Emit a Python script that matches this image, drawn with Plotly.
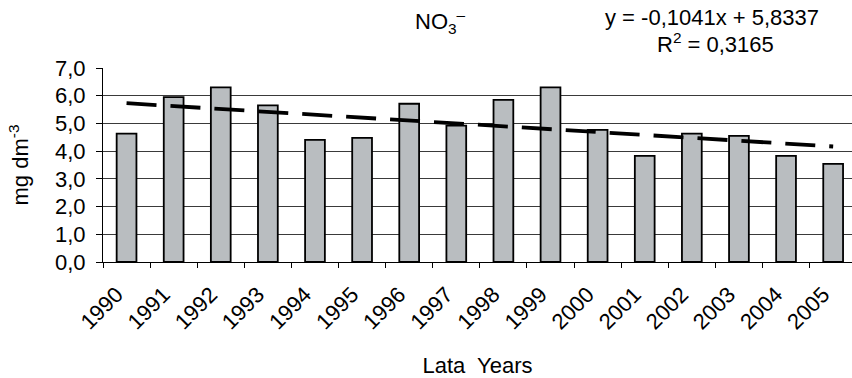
import plotly.graph_objects as go

# Annual mean NO3- concentration
years = ["1990", "1991", "1992", "1993", "1994", "1995", "1996", "1997",
         "1998", "1999", "2000", "2001", "2002", "2003", "2004", "2005"]
no3 = [4.63, 5.95, 6.30, 5.65, 4.41, 4.48, 5.71, 4.92,
       5.85, 6.30, 4.77, 3.83, 4.63, 4.55, 3.83, 3.54]

# Linear trend reported on the chart: y = a*x + b, x = 1..n
slope = -0.1041
intercept = 5.8337
r_squared = 0.3165
trend = [slope * (i + 1) + intercept for i in range(len(years))]

FONT = "Arial, Liberation Sans, sans-serif"
FS = 22

W, H = 852, 378
L, R, T, B = 103, 0, 68, 116
pw, ph = W - L - R, H - T - B


def px_to_paper(x, y):
    return (x - L) / pw, (H - B - y) / ph


fig = go.Figure()
fig.add_trace(go.Bar(
    x=years, y=no3,
    width=0.42,
    marker=dict(color="#b9bdc0", line=dict(color="black", width=1.8)),
    showlegend=False,
))
fig.add_trace(go.Scatter(
    x=years, y=trend, mode="lines",
    line=dict(color="black", width=3.8, dash="30px,14px"),
    showlegend=False,
))

tx, ty = px_to_paper(440, 22)
e1x, e1y = px_to_paper(712, 17)
e2x, e2y = px_to_paper(715, 43)
eq_line = f"y = {slope:.4f}x + {intercept:.4f}".replace(".", ",")
r2_line = f"R<sup>2</sup> = {r_squared:.4f}".replace(".", ",")

fig.update_layout(
    width=W, height=H,
    margin=dict(l=L, r=R, t=T, b=B),
    plot_bgcolor="white", paper_bgcolor="white",
    separators=", ",
    font=dict(family=FONT, size=FS, color="black"),
    xaxis=dict(
        type="category",
        range=[-0.5, 15.4],
        showline=True, linecolor="black", linewidth=1,
        ticks="outside", ticklen=5, tickcolor="black",
        tickson="boundaries",
        tickangle=-45,
        ticklabelstandoff=10,
        ticklabelshift=-10,
        showgrid=False,
        tickfont=dict(size=FS),
        title=dict(text="Lata\u00a0 Years", font=dict(size=FS), standoff=25),
    ),
    yaxis=dict(
        range=[0, 7],
        tickvals=[0, 1, 2, 3, 4, 5, 6, 7],
        tickformat=".1f",
        showline=True, linecolor="black", linewidth=1,
        ticks="outside", ticklen=6, tickcolor="black",
        ticklabelstandoff=6,
        showgrid=True, gridcolor="#3a3a3a", gridwidth=1,
        zeroline=False,
        tickfont=dict(size=FS),
        title=dict(text="mg dm<sup>-3</sup>", font=dict(size=FS), standoff=20),
    ),
    annotations=[
        dict(text="NO<sub>3</sub><sup>\u2013</sup>", x=tx, y=ty,
             xref="paper", yref="paper", xanchor="center", yanchor="middle",
             showarrow=False, font=dict(size=FS)),
        dict(text=eq_line, x=e1x, y=e1y,
             xref="paper", yref="paper", xanchor="center", yanchor="middle",
             showarrow=False, font=dict(size=FS)),
        dict(text=r2_line, x=e2x, y=e2y,
             xref="paper", yref="paper", xanchor="center", yanchor="middle",
             showarrow=False, font=dict(size=FS)),
    ],
)

fig.write_html("out.html")
